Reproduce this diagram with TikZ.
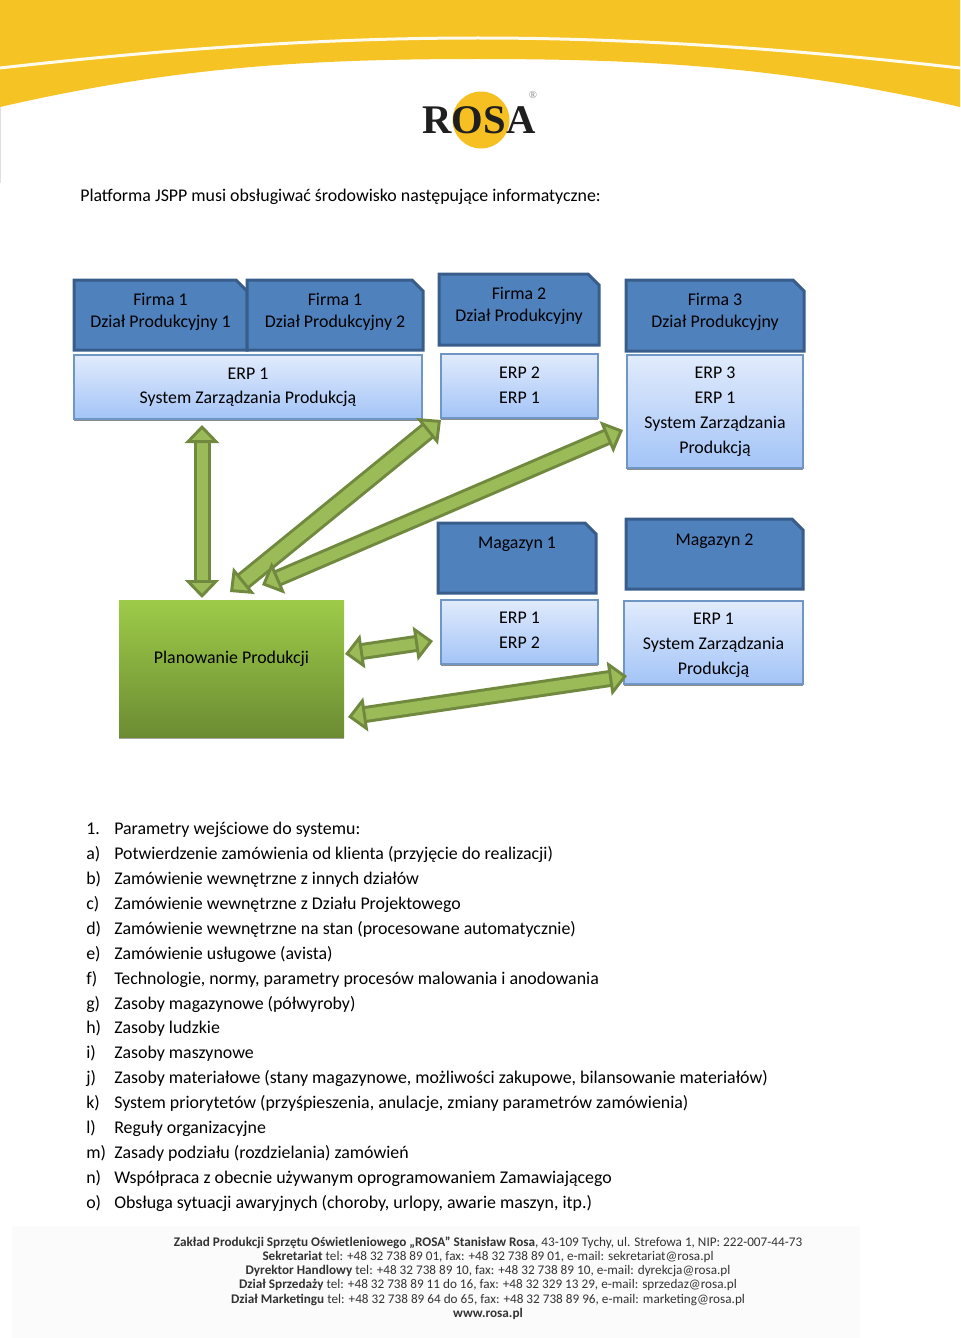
\documentclass[tikz,border=0pt]{standalone}
\usepackage{fontspec}
\setmainfont{Carlito}
\newfontfamily\logofont{Liberation Serif}
\usetikzlibrary{arrows.meta,shapes.misc,shadows}
\newdimen\pxu
\pxu=0.75pt
\definecolor{bannerY}{HTML}{F6C324}
\definecolor{firmFill}{HTML}{4F81BD}
\definecolor{firmLine}{HTML}{385D8A}
\definecolor{erpTop}{HTML}{E1EBFC}
\definecolor{erpBot}{HTML}{A3C4F7}
\definecolor{erpLine}{HTML}{7096C6}
\definecolor{planTop}{HTML}{9DCB48}
\definecolor{planBot}{HTML}{6C8C33}
\definecolor{arrFill}{HTML}{9BBB59}
\definecolor{arrLine}{HTML}{71893F}
\tikzset{
  % ----- boxes
  firm/.style={
    chamfered rectangle, chamfered rectangle corners=north east,
    chamfered rectangle xsep=5.5\pxu, chamfered rectangle ysep=5.5\pxu,
    draw=firmLine, line width=3\pxu, fill=firmFill, align=center, inner sep=0pt,
    font=\fontsize{13.4}{16.5}\selectfont, text depth=#1\pxu
  },
  erp/.style={
    rectangle, draw=erpLine, line width=1.5\pxu, top color=erpTop, bottom color=erpBot,
    align=center, inner sep=0pt, font=\fontsize{13.4}{18.7}\selectfont,
    drop shadow={shadow xshift=0pt, shadow yshift=-1.5\pxu, fill=black, opacity=.45}
  },
  plan/.style={
    rectangle, top color=planTop, bottom color=planBot, inner sep=0pt,
    font=\fontsize{13.4}{16}\selectfont, text depth=22\pxu,
    drop shadow={shadow xshift=0pt, shadow yshift=-1.5\pxu, fill=black, opacity=.35}
  },
  % ----- block arrows
  blocktip/.tip={Triangle[length=13.5pt, width=25.5pt, fill=arrFill, color=arrLine, line width=2.2pt]},
  blockarrow/.style={
    line width=3\pxu, draw=arrLine, double=arrFill, double distance=#1\pxu,
    blocktip-blocktip
  },
  % ----- text
  para/.style={anchor=base west, inner sep=0pt, font=\fontsize{13.4}{16}\selectfont},
  foot/.style={align=center, inner sep=0pt, text=black!80, font=\fontsize{9.9}{10.65}\selectfont}
}
\begin{document}
\begin{tikzpicture}[x=0.75pt,y=-0.75pt]
  \useasboundingbox (0,0) rectangle (960,1338);

  % banner
  \fill[bannerY] (0,0) -- (960,0) -- (960,107) .. controls (790,68) and (656,59) .. (478,59)
    .. controls (300,59) and (170,68) .. (0,107) -- cycle;
  \draw[white!92!bannerY, line width=3\pxu] (0,68) .. controls (150,51) and (310,38) .. (478,38)
    .. controls (646,38) and (810,51) .. (960,68);
  \draw[black!12, line width=1\pxu] (0.5,107) -- (0.5,183);

  % logo
  \fill[bannerY!96!orange] (481,120) ellipse (28.5 and 28.5);
  \node[inner sep=0pt, text=black!88, font=\logofont\bfseries\fontsize{30.5}{30}\selectfont] (logo) at (479,120) {ROSA};
  \node[inner sep=0pt, text=black!50, font=\logofont\fontsize{8}{8}\selectfont] (logoreg) at (533,95) {®};

  \node[para] (title) at (80,201) {Platforma JSPP musi obsługiwać środowisko następujące informatyczne:};

  % firms
  \node[firm=10, minimum width=173\pxu, minimum height=70\pxu] (F1a) at (160.5,315) {Firma 1\\Dział Produkcyjny 1};
  \node[firm=10, minimum width=176\pxu, minimum height=70\pxu] (F1b) at (335,315) {Firma 1\\Dział Produkcyjny 2};
  \node[firm=10, minimum width=160\pxu, minimum height=71\pxu] (F2) at (519,309.5) {Firma 2\\Dział Produkcyjny};
  \node[firm=10, minimum width=178\pxu, minimum height=71\pxu] (F3) at (715,315.5) {Firma 3\\Dział Produkcyjny};

  % systems of the firms
  \node[erp, minimum width=348\pxu, minimum height=64\pxu, text height=37\pxu] (E1) at (248,387) {ERP 1\\System Zarządzania Produkcją};
  \node[erp, minimum width=157\pxu, minimum height=64\pxu, text depth=2\pxu] (E2) at (519.5,386) {ERP 2\\ERP 1};
  \node[erp, minimum width=176\pxu, minimum height=113\pxu, text height=87\pxu] (E3) at (715,411.5) {ERP 3\\ERP 1\\System Zarządzania\\Produkcją};

  % stores
  \node[firm=31, minimum width=158\pxu, minimum height=70\pxu] (M1) at (517,558) {Magazyn 1};
  \node[firm=29, minimum width=177\pxu, minimum height=70\pxu] (M2) at (714.5,554) {Magazyn 2};
  \node[erp, minimum width=157\pxu, minimum height=64\pxu, text depth=4\pxu] (E4) at (519.5,632) {ERP 1\\ERP 2};
  \node[erp, minimum width=179\pxu, minimum height=83\pxu, text height=67\pxu] (E5) at (713.5,642.5) {ERP 1\\System Zarządzania\\Produkcją};

  \node[plan, minimum width=225\pxu, minimum height=137\pxu] (P) at (231.5,668.5) {Planowanie Produkcji};

  % ends of the arrows
  \coordinate (A1) at (202,425);
  \coordinate (P1) at (202,598);
  \coordinate (A2) at (441,420);
  \coordinate (P2) at (230,592);
  \coordinate (A3) at (623,430);
  \coordinate (P3) at (262,585);
  \coordinate (A4) at (433,641);
  \coordinate (P4) at (345,654);
  \coordinate (A5) at (627,676);
  \coordinate (P5) at (348,717);

  % Connect production planning to every system
  \foreach \n/\w in {1/11,2/13,3/11,4/11,5/11}{
    \draw[blockarrow=\w] (P\n) -- (A\n);
  }

  % list
  \foreach \lab/\txt [count=\i from 0] in {
      1./{Parametry wejściowe do systemu:},
      a)/{Potwierdzenie zamówienia od klienta (przyjęcie do realizacji)},
      b)/{Zamówienie wewnętrzne z innych działów},
      c)/{Zamówienie wewnętrzne z Działu Projektowego},
      d)/{Zamówienie wewnętrzne na stan (procesowane automatycznie)},
      e)/{Zamówienie usługowe (avista)},
      f)/{Technologie, normy, parametry procesów malowania i anodowania},
      g)/{Zasoby magazynowe (półwyroby)},
      h)/{Zasoby ludzkie},
      i)/{Zasoby maszynowe},
      j)/{Zasoby materiałowe (stany magazynowe, możliwości zakupowe, bilansowanie materiałów)},
      k)/{System priorytetów (przyśpieszenia, anulacje, zmiany parametrów zamówienia)},
      l)/{Reguły organizacyjne},
      m)/{Zasady podziału (rozdzielania) zamówień},
      n)/{Współpraca z obecnie używanym oprogramowaniem Zamawiającego},
      o)/{Obsługa sytuacji awaryjnych (choroby, urlopy, awarie maszyn, itp.)}}{
    \node[para] (lab\i) at (86,{834.5+24.93*\i}) {\lab};
    \node[para] (item\i) at (114,{834.5+24.93*\i}) {\txt};
  }

  % footer
  \fill[black!1.5] (12,1226) rectangle (860,1338);
  \node[foot] (footer) at (488,1278) {%
    \textbf{Zakład Produkcji Sprzętu Oświetleniowego „ROSA” Stanisław Rosa}, 43-109 Tychy, ul. Strefowa 1, NIP: 222-007-44-73\\
    \textbf{Sekretariat} tel: +48 32 738 89 01, fax: +48 32 738 89 01, e-mail: sekretariat@rosa.pl\\
    \textbf{Dyrektor Handlowy} tel: +48 32 738 89 10,  fax: +48 32 738 89 10, e-mail: dyrekcja@rosa.pl\\
    \textbf{Dział Sprzedaży} tel: +48 32 738 89 11 do 16,  fax: +48 32 329 13 29,  e-mail: sprzedaz@rosa.pl\\
    \textbf{Dział Marketingu} tel: +48 32 738 89 64 do 65, fax: +48 32 738 89 96, e-mail: marketing@rosa.pl\\
    \textbf{www.rosa.pl}};
\end{tikzpicture}
\end{document}
